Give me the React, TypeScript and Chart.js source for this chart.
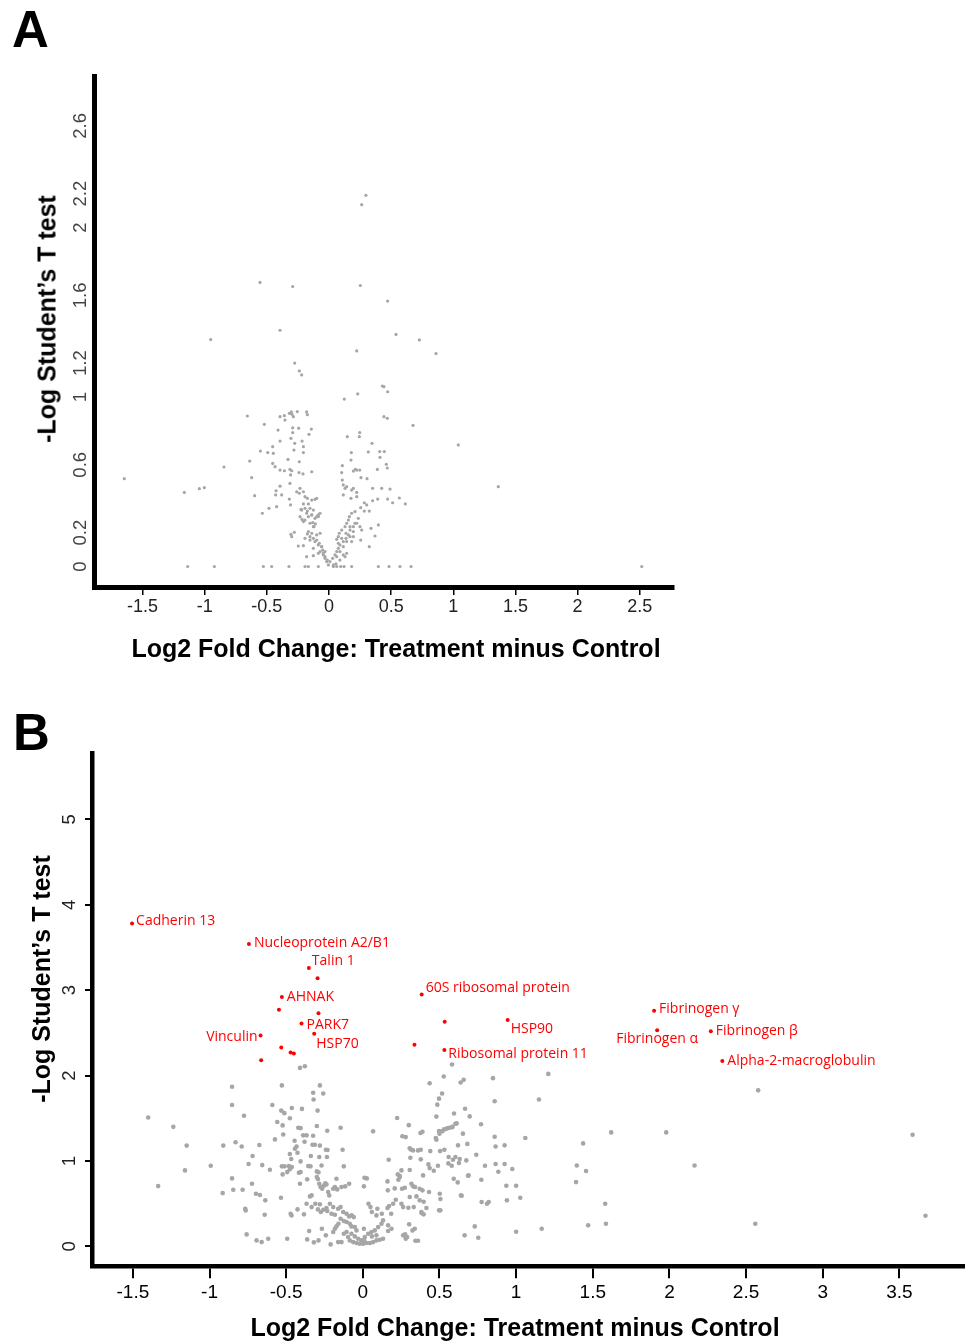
import React, { useEffect, useRef } from "react";
import { Chart, registerables } from "chart.js";

Chart.register(...registerables);

// ---------- tick values and labels ----------
const A_X_TICKS = [-1.5, -1, -0.5, 0, 0.5, 1, 1.5, 2, 2.5];
const A_X_LABELS = ["-1.5", "-1", "-0.5", "0", "0.5", "1", "1.5", "2", "2.5"];
const A_Y_TICKS = [0, 0.2, 0.6, 1, 1.2, 1.6, 2, 2.2, 2.6];
const A_Y_LABELS = ["0", "0.2", "0.6", "1", "1.2", "1.6", "2", "2.2", "2.6"];

const B_X_TICKS = [-1.5, -1, -0.5, 0, 0.5, 1, 1.5, 2, 2.5, 3, 3.5];
const B_X_LABELS = ["-1.5", "-1", "-0.5", "0", "0.5", "1", "1.5", "2", "2.5", "3", "3.5"];
const B_Y_TICKS = [0, 1, 2, 3, 4, 5];
const B_Y_LABELS = ["0", "1", "2", "3", "4", "5"];

const X_TITLE = "Log2 Fold Change: Treatment minus Control";
const Y_TITLE = "-Log Student\u2019s T test";

// ---------- panel A: all proteins (log2 FC, -log p) ----------
const PANEL_A_POINTS: [number, number][] = [
  [0.297, 2.19], [0.263, 2.135], [-0.555, 1.676], [-0.292, 1.652], [0.252, 1.658], [0.472, 1.566],
  [-0.394, 1.394], [-0.952, 1.339], [0.539, 1.369], [0.727, 1.337], [0.223, 1.272], [0.861, 1.256],
  [-0.276, 1.2], [-0.239, 1.154], [-0.22, 1.13], [1.362, 0.471], [2.516, 0],
  [0.429, 1.065], [0.442, 1.061], [0.472, 1.031], [0.123, 0.988], [0.231, 1.018],
  [-0.657, 0.888], [-0.52, 0.839], [-0.394, 0.884], [-0.359, 0.89], [-0.354, 0.864], [-0.319, 0.904],
  [-0.303, 0.912], [-0.298, 0.898], [-0.255, 0.914], [-0.18, 0.912], [-0.174, 0.896], [-0.287, 0.884],
  [0.442, 0.884], [0.469, 0.874], [0.676, 0.833],
  [-0.41, 0.805], [-0.292, 0.818], [-0.244, 0.816], [-0.142, 0.811], [-0.161, 0.78], [-0.292, 0.79],
  [-0.306, 0.756], [-0.394, 0.74], [-0.217, 0.74], [-0.276, 0.727], [-0.206, 0.707],
  [0.247, 0.79], [0.244, 0.766], [0.147, 0.766], [1.04, 0.717],
  [0.346, 0.727], [-0.453, 0.707], [-0.552, 0.681], [-0.493, 0.672], [-0.448, 0.668], [-0.282, 0.687],
  [-0.206, 0.672], [-0.638, 0.622], [-0.33, 0.632], [-0.239, 0.618],
  [0.18, 0.672], [0.177, 0.628], [0.316, 0.676], [0.408, 0.678], [0.445, 0.678], [0.41, 0.644], [0.461, 0.603],
  [-0.845, 0.587], [-1.647, 0.518], [-0.622, 0.524], [-0.453, 0.608], [-0.434, 0.589], [-0.394, 0.569],
  [-0.359, 0.565], [-0.314, 0.573], [-0.3, 0.565], [-0.309, 0.54], [-0.241, 0.554], [-0.209, 0.546], [-0.139, 0.559],
  [0.107, 0.595], [0.102, 0.554], [0.196, 0.563], [0.212, 0.573], [0.223, 0.569], [0.247, 0.569],
  [0.257, 0.524], [0.389, 0.573], [0.469, 0.581], [0.306, 0.518], [0.351, 0.461],
  [-1.164, 0.437], [-1.043, 0.459], [-1.003, 0.465], [-0.598, 0.418], [-0.536, 0.314], [-0.483, 0.343],
  [-0.421, 0.353], [-0.426, 0.447], [-0.394, 0.474], [-0.429, 0.422], [-0.381, 0.422], [-0.314, 0.49],
  [-0.319, 0.398], [-0.26, 0.441], [-0.239, 0.432], [-0.233, 0.461], [-0.206, 0.441], [-0.193, 0.412],
  [-0.174, 0.402], [-0.139, 0.392], [-0.113, 0.396], [-0.099, 0.402], [-0.309, 0.363], [-0.206, 0.369], [-0.166, 0.369],
  [0.107, 0.51], [0.115, 0.481], [0.129, 0.461], [0.142, 0.471], [0.182, 0.451], [0.196, 0.461],
  [0.223, 0.437], [0.115, 0.422], [0.177, 0.402], [0.223, 0.412], [0.424, 0.461], [0.472, 0.398],
  [0.512, 0.376], [0.566, 0.404], [0.614, 0.369], [0.491, 0.457], [0.392, 0.398], [0.351, 0.388],
  [0.284, 0.376], [0.303, 0.363], [0.284, 0.327], [0.324, 0.327], [0.255, 0.347],
  [-0.225, 0.337], [-0.193, 0.343], [-0.174, 0.327], [-0.153, 0.343], [-0.126, 0.333], [-0.233, 0.294],
  [-0.217, 0.278], [-0.193, 0.274], [-0.166, 0.294], [-0.139, 0.304], [-0.099, 0.294], [-0.131, 0.259],
  [-0.11, 0.251], [-0.121, 0.235], [-0.086, 0.304], [-0.072, 0.314],
  [-0.306, 0.19], [-0.3, 0.176], [-0.279, 0.202], [-0.247, 0.121], [-0.206, 0.123], [-0.174, 0.192],
  [-0.153, 0.176], [-0.126, 0.166], [-0.099, 0.156], [-0.078, 0.137], [-0.059, 0.117], [-0.072, 0.196],
  [-0.18, 0.058], [-0.126, 0.064], [-0.086, 0.078], [-0.046, 0.068], [-0.032, 0.048], [-0.019, 0.029],
  [-0.005, 0.009], [-0.051, 0.097], [-0.032, 0.088],
  [0.008, 0.029], [0.029, 0.048], [0.048, 0.068], [0.062, 0.088], [0.075, 0.107], [0.088, 0.127],
  [0.115, 0.147], [0.137, 0.166], [0.156, 0.186], [0.169, 0.215], [0.083, 0.196], [0.102, 0.215],
  [0.129, 0.235], [0.142, 0.255], [0.062, 0.16], [0.075, 0.176], [0.164, 0.294], [0.182, 0.314],
  [0.209, 0.324], [0.156, 0.274], [0.196, 0.235], [0.223, 0.255], [0.249, 0.235], [0.263, 0.215],
  [0.196, 0.176], [0.182, 0.147], [0.255, 0.156], [0.324, 0.117], [0.338, 0.225], [0.37, 0.18],
  [0.397, 0.245], [0.115, 0.068], [0.142, 0.078], [0.035, 0.009], [0.056, 0.015],
  [-0.22, 0.333], [-0.18, 0.314], [-0.139, 0.304], [-0.113, 0.284], [-0.086, 0.294], [-0.206, 0.265],
  [-0.153, 0.255], [-0.126, 0.235], [-0.166, 0.206], [-0.139, 0.196], [-0.099, 0.186], [-0.193, 0.166],
  [-0.153, 0.156], [-0.113, 0.147], [-0.086, 0.127], [-0.059, 0.117], [-0.126, 0.107], [-0.072, 0.088],
  [-0.046, 0.078], [-0.032, 0.058], [-0.013, 0.038],
  [0.062, 0.058], [0.088, 0.088], [0.115, 0.117], [0.142, 0.147], [0.169, 0.176], [0.196, 0.206],
  [0.075, 0.137], [0.102, 0.166], [0.137, 0.196], [0.169, 0.235], [0.209, 0.255], [0.236, 0.284],
  [0.088, 0.038], [0.129, 0.058],
  [-1.137, 0], [-0.922, 0], [-0.528, 0], [-0.461, 0], [-0.322, 0], [-0.193, 0], [-0.166, 0], [-0.086, 0],
  [0.035, 0], [0.062, 0], [0.094, 0], [0.121, 0], [0.182, 0], [0.397, 0], [0.483, 0], [0.571, 0], [0.66, 0],
];

// ---------- panel B: non-significant proteins ----------
const PANEL_B_GRAY: [number, number][] = [
  [-0.41, 2.09], [-0.378, 2.11], [0.582, 2.13],
  [-0.853, 1.87], [-0.528, 1.885], [-0.28, 1.885], [0.528, 1.99], [0.638, 1.92], [0.658, 1.95], [0.849, 1.97], [0.436, 1.91],
  [-0.324, 1.8], [-0.258, 1.79], [-0.321, 1.72], [-0.853, 1.655], [-0.59, 1.655], [-0.532, 1.59], [-0.512, 1.56],
  [-0.463, 1.62], [-0.397, 1.61], [-0.295, 1.59], [0.517, 1.79], [0.497, 1.73], [0.486, 1.66], [0.86, 1.7], [1.149, 1.72],
  [-1.4, 1.51], [-1.236, 1.4], [-0.775, 1.53], [-0.558, 1.456], [-0.476, 1.5], [-0.523, 1.417], [-0.421, 1.39],
  [-0.406, 1.385], [-0.3, 1.41], [-0.232, 1.354], [-0.145, 1.39], [0.067, 1.347], [0.224, 1.503], [0.3, 1.42],
  [0.48, 1.52], [0.595, 1.557], [0.667, 1.612], [0.697, 1.522], [0.771, 1.43], [0.53, 1.37], [0.556, 1.386],
  [0.584, 1.4], [0.604, 1.436], [0.612, 1.44], [0.497, 1.35], [1.06, 1.27], [0.86, 1.284],
  [-0.573, 1.253], [-0.519, 1.31], [-0.445, 1.237], [-0.432, 1.17], [-0.389, 1.3], [-0.367, 1.3], [-0.38, 1.226],
  [-0.324, 1.296], [-0.328, 1.19], [-0.313, 1.19], [-0.28, 1.18], [0.258, 1.29], [0.28, 1.28], [0.376, 1.327],
  [0.389, 1.343], [0.476, 1.27], [0.48, 1.25], [0.5, 1.32], [0.52, 1.35], [0.545, 1.378], [0.567, 1.39],
  [0.584, 1.397], [0.621, 1.183], [0.682, 1.2], [0.653, 1.32], [0.866, 1.17], [0.925, 1.183],
  [-1.149, 1.18], [-0.91, 1.18], [-0.83, 1.22], [-0.79, 1.17], [-0.675, 1.187], [-0.719, 1.058], [-0.476, 1.081],
  [-0.467, 1.023], [-0.443, 1.144], [-0.426, 1.097], [-0.406, 0.995], [-0.339, 1.058], [-0.284, 1.046],
  [-0.241, 1.132], [-0.23, 1.128], [-0.234, 1.046], [-0.132, 1.132], [0.306, 1.15], [0.313, 1.136],
  [0.328, 1.124], [0.36, 1.124], [0.378, 1.132], [0.31, 1.038], [0.378, 1.019], [0.44, 1.116], [0.504, 1.116],
  [0.532, 1.132], [0.56, 1.046], [0.604, 1.046], [0.632, 1.023], [0.675, 1.007], [0.74, 1.073], [0.797, 0.945],
  [0.866, 0.964], [0.925, 0.964], [0.975, 0.906],
  [-1.16, 0.89], [-0.992, 0.945], [-0.745, 0.964], [-0.656, 0.952], [-0.606, 0.898], [-0.528, 0.937],
  [-0.51, 0.937], [-0.482, 0.94], [-0.523, 0.843], [-0.493, 0.87], [-0.476, 0.902], [-0.463, 0.929],
  [-0.417, 0.863], [-0.406, 0.87], [-0.356, 0.94], [-0.341, 0.937], [-0.3, 0.878], [-0.289, 0.867],
  [-0.269, 0.948], [-0.124, 0.937], [0.169, 1.015], [0.228, 0.843], [0.241, 0.824], [0.252, 0.89],
  [0.306, 0.894], [0.393, 0.831], [0.428, 0.96], [0.436, 0.917], [0.463, 0.886], [0.49, 0.945], [0.558, 0.972],
  [0.588, 1.015], [0.58, 0.945], [0.627, 0.976], [0.69, 0.831], [0.619, 0.749], [0.884, 0.874], [0.936, 0.71], [1.0, 0.71],
  [-1.335, 0.706], [-0.853, 0.796], [-0.845, 0.664], [-0.784, 0.664], [-0.723, 0.734], [-0.697, 0.617],
  [-0.671, 0.601], [-0.636, 0.539], [-0.534, 0.57], [-0.41, 0.734], [-0.363, 0.785], [-0.3, 0.812],
  [-0.293, 0.788], [-0.284, 0.734], [-0.276, 0.695], [-0.265, 0.675], [-0.254, 0.71], [-0.245, 0.738],
  [-0.237, 0.726], [-0.226, 0.636], [-0.219, 0.597], [-0.193, 0.675], [-0.182, 0.695], [-0.172, 0.792],
  [-0.167, 0.667], [-0.139, 0.695], [-0.115, 0.703], [-0.089, 0.734], [0.011, 0.804], [0.026, 0.796],
  [0.007, 0.703], [0.161, 0.761], [0.163, 0.656], [0.208, 0.679], [0.232, 0.78], [0.241, 0.812], [0.256, 0.675],
  [0.274, 0.687], [0.317, 0.734], [0.328, 0.703], [0.341, 0.695], [0.371, 0.675], [0.389, 0.656], [0.432, 0.636],
  [0.502, 0.617], [0.506, 0.554], [0.593, 0.792], [0.64, 0.597], [0.686, 0.828], [0.773, 0.78], [0.81, 0.5],
  [0.821, 0.52], [0.775, 0.52], [1.027, 0.57], [0.94, 0.539], [1.0, 0.172],
  [-0.914, 0.624], [-0.767, 0.441], [-0.764, 0.42], [-0.64, 0.37], [-0.471, 0.382], [-0.465, 0.363],
  [-0.426, 0.433], [-0.384, 0.375], [-0.367, 0.5], [-0.345, 0.585], [-0.334, 0.597], [-0.334, 0.46],
  [-0.31, 0.5], [-0.28, 0.492], [-0.293, 0.433], [-0.274, 0.402], [-0.258, 0.429], [-0.237, 0.449],
  [-0.232, 0.414], [-0.215, 0.5], [-0.193, 0.46], [-0.204, 0.382], [-0.182, 0.37], [-0.161, 0.441],
  [-0.145, 0.46], [-0.128, 0.402], [-0.106, 0.382], [-0.089, 0.351], [-0.072, 0.363], [-0.059, 0.343],
  [-0.159, 0.265], [-0.172, 0.234], [-0.145, 0.324], [-0.124, 0.297], [-0.106, 0.285], [-0.085, 0.265],
  [-0.074, 0.234], [-0.052, 0.226], [-0.041, 0.187], [0.037, 0.5], [0.05, 0.46], [0.059, 0.402],
  [0.089, 0.363], [0.095, 0.441], [0.124, 0.382], [0.132, 0.304], [0.161, 0.449], [0.171, 0.472],
  [0.185, 0.382], [0.198, 0.5], [0.215, 0.546], [0.252, 0.5], [0.263, 0.46], [0.297, 0.453], [0.306, 0.578],
  [0.332, 0.46], [0.35, 0.585], [0.371, 0.539], [0.397, 0.523], [0.382, 0.402], [0.397, 0.375], [0.415, 0.449],
  [0.497, 0.422], [0.506, 0.422], [0.007, 0.207], [0.009, 0.07],
  [-0.758, 0.14], [-0.693, 0.07], [-0.66, 0.05], [-0.617, 0.09], [-0.493, 0.09], [-0.363, 0.082],
  [-0.35, 0.18], [-0.319, 0.047], [-0.289, 0.07], [-0.267, 0.207], [-0.241, 0.129], [-0.21, 0.023],
  [-0.161, 0.05], [-0.139, 0.05], [-0.182, 0.207], [-0.193, 0.168], [-0.124, 0.148], [-0.106, 0.168],
  [-0.096, 0.109], [-0.085, 0.07], [-0.063, 0.05], [-0.041, 0.039], [-0.02, 0.031], [0.002, 0.031],
  [0.024, 0.039], [0.046, 0.039], [0.067, 0.05], [0.089, 0.07], [0.111, 0.078], [0.132, 0.09],
  [-0.074, 0.148], [-0.052, 0.117], [-0.03, 0.09], [-0.009, 0.07], [0.013, 0.109], [0.035, 0.148],
  [0.056, 0.168], [0.078, 0.187], [0.1, 0.226], [0.122, 0.265], [0.059, 0.117], [0.089, 0.129],
  [0.165, 0.246], [0.165, 0.18], [0.187, 0.207], [0.263, 0.129], [0.276, 0.14], [0.28, 0.09], [0.289, 0.109],
  [0.324, 0.187], [0.339, 0.207], [0.302, 0.258], [0.343, 0.066], [0.36, 0.066], [0.384, 0.39],
  [0.664, 0.129], [0.73, 0.234], [0.753, 0.101], [0.645, 0.593],
  [1.21, 2.02], [1.437, 1.206], [1.396, 0.948], [1.456, 0.882], [1.391, 0.753], [1.62, 1.335],
  [1.979, 1.335], [2.164, 0.948], [1.581, 0.5], [1.586, 0.265], [1.47, 0.246], [1.167, 0.207],
  [2.56, 0.265], [2.579, 1.827], [3.586, 1.308], [3.67, 0.359],
];

// ---------- panel B: significant proteins ----------
const PANEL_B_RED: [number, number][] = [
  [-1.505, 3.78], [-0.743, 3.54], [-0.352, 3.26], [-0.295, 3.14], [-0.528, 2.92], [-0.547, 2.77],
  [-0.289, 2.73], [-0.4, 2.61], [-0.317, 2.49], [-0.667, 2.47], [-0.532, 2.33], [-0.471, 2.27],
  [-0.45, 2.26], [-0.663, 2.18], [0.384, 2.95], [0.534, 2.63], [0.337, 2.36], [0.532, 2.3],
  [0.945, 2.65], [1.9, 2.76], [1.92, 2.53], [2.27, 2.52], [2.345, 2.17],
];
const PANEL_B_RED_NAMES: string[] = [
  "Cadherin 13", "Nucleoprotein A2/B1", "Talin 1", "", "AHNAK", "",
  "", "PARK7", "HSP70", "Vinculin", "", "",
  "", "", "60S ribosomal protein", "", "", "Ribosomal protein 11",
  "HSP90", "Fibrinogen \u03b3", "Fibrinogen \u03b1", "Fibrinogen \u03b2", "Alpha-2-macroglobulin",
];

// label placement (pixel offsets from the point) – styling only
const LABEL_PLACEMENT: Record<string, { dx: number; dy: number; align: CanvasTextAlign }> = {
  "Cadherin 13": { dx: 4, dy: -3, align: "left" },
  "Nucleoprotein A2/B1": { dx: 5, dy: -1, align: "left" },
  "Talin 1": { dx: 3, dy: -7, align: "left" },
  "AHNAK": { dx: 5, dy: 0, align: "left" },
  "PARK7": { dx: 5, dy: 2, align: "left" },
  "HSP70": { dx: 2, dy: 10, align: "left" },
  "Vinculin": { dx: -3, dy: 2, align: "right" },
  "60S ribosomal protein": { dx: 4, dy: -6, align: "left" },
  "Ribosomal protein 11": { dx: 4, dy: 4, align: "left" },
  "HSP90": { dx: 3, dy: 9, align: "left" },
  "Fibrinogen \u03b3": { dx: 5, dy: -2, align: "left" },
  "Fibrinogen \u03b1": { dx: 0, dy: 9, align: "center" },
  "Fibrinogen \u03b2": { dx: 5, dy: 0, align: "left" },
  "Alpha-2-macroglobulin": { dx: 5, dy: 0, align: "left" },
};

const GRAY = "#a6a6a6";
const RED = "#ff0000";
const SANS = '"Liberation Sans", Arial, sans-serif';

const toXY = (pts: [number, number][]) => pts.map(([x, y]) => ({ x, y }));

const labelPlugin = {
  id: "proteinLabels",
  afterDatasetsDraw(chart: any) {
    const meta = chart.getDatasetMeta(1);
    if (!meta || !meta.data) return;
    const ctx = chart.ctx;
    ctx.save();
    ctx.font = '14px "Open Sans", "Liberation Sans", sans-serif';
    ctx.fillStyle = RED;
    ctx.textBaseline = "middle";
    PANEL_B_RED_NAMES.forEach((name, i) => {
      if (!name) return;
      const el = meta.data[i];
      const p = LABEL_PLACEMENT[name];
      if (!el || !p) return;
      ctx.textAlign = p.align;
      ctx.fillText(name, el.x + p.dx, el.y + p.dy);
    });
    ctx.restore();
  },
};

type AxisCfg = {
  min: number; max: number; ticks: number[]; labels: string[];
  tickLen: number; tickWidth: number; pad: number; fontSize: number; color: string; box: number;
};

function makeScales(x: AxisCfg, y: AxisCfg, borderWidth: number) {
  return {
    x: {
      type: "linear",
      position: "bottom",
      min: x.min,
      max: x.max,
      afterBuildTicks: (s: any) => { s.ticks = x.ticks.map((v) => ({ value: v })); },
      afterFit: (s: any) => { s.height = x.box; },
      grid: {
        display: true, drawOnChartArea: false, drawTicks: x.tickLen > 0,
        tickLength: x.tickLen, color: "#000", tickColor: "#000", lineWidth: x.tickWidth, tickWidth: x.tickWidth,
      },
      border: { display: true, color: "#000", width: borderWidth },
      ticks: {
        autoSkip: false, minRotation: 0, maxRotation: 0, padding: x.pad, color: x.color,
        font: { family: SANS, size: x.fontSize },
        callback: (_v: any, i: number) => x.labels[i],
      },
    },
    y: {
      type: "linear",
      position: "left",
      min: y.min,
      max: y.max,
      afterBuildTicks: (s: any) => { s.ticks = y.ticks.map((v) => ({ value: v })); },
      afterFit: (s: any) => { s.width = y.box; },
      grid: {
        display: y.tickLen > 0, drawOnChartArea: false, drawTicks: y.tickLen > 0,
        tickLength: y.tickLen, color: "#000", tickColor: "#000", lineWidth: y.tickWidth, tickWidth: y.tickWidth,
      },
      border: { display: true, color: "#000", width: borderWidth },
      ticks: {
        autoSkip: false, minRotation: 90, maxRotation: 90, crossAlign: "center", padding: y.pad, color: y.color,
        font: { family: SANS, size: y.fontSize },
        callback: (_v: any, i: number) => y.labels[i],
      },
    },
  };
}

function baseOptions(padding: any, scales: any) {
  return {
    responsive: false,
    animation: false,
    devicePixelRatio: 1,
    events: [],
    layout: { padding, autoPadding: false },
    plugins: { legend: { display: false }, tooltip: { enabled: false }, title: { display: false } },
    scales,
  };
}

const titleStyle: React.CSSProperties = {
  position: "absolute",
  fontFamily: SANS,
  fontWeight: "bold",
  fontSize: 25,
  lineHeight: "25px",
  whiteSpace: "nowrap",
  color: "#000",
};

export default function App() {
  const refA = useRef<HTMLCanvasElement>(null);
  const refB = useRef<HTMLCanvasElement>(null);

  useEffect(() => {
    const chartA = new Chart(refA.current as HTMLCanvasElement, {
      type: "scatter",
      data: {
        datasets: [
          {
            data: toXY(PANEL_A_POINTS),
            backgroundColor: GRAY,
            borderWidth: 0,
            pointRadius: 1.6,
          },
        ],
      },
      options: baseOptions(
        { left: 54, right: 291, top: 76, bottom: 45 },
        makeScales(
          { min: -1.8906, max: 2.7755, ticks: A_X_TICKS, labels: A_X_LABELS, tickLen: 8, tickWidth: 1.5, pad: 1.5, fontSize: 18, color: "#222", box: 40 },
          { min: -0.121, max: 2.894, ticks: A_Y_TICKS, labels: A_Y_LABELS, tickLen: 0, tickWidth: 0, pad: 0, fontSize: 18.5, color: "#444", box: 40 },
          5
        )
      ) as any,
    } as any);

    const chartB = new Chart(refB.current as HTMLCanvasElement, {
      type: "scatter",
      data: {
        datasets: [
          {
            data: toXY(PANEL_B_GRAY),
            backgroundColor: GRAY,
            borderWidth: 0,
            pointRadius: 2.3,
          },
          {
            data: toXY(PANEL_B_RED),
            backgroundColor: RED,
            borderWidth: 0,
            pointRadius: 2,
          },
        ],
      },
      options: baseOptions(
        { left: 52, right: 0, top: 81, bottom: 37.3 },
        makeScales(
          { min: -1.7665, max: 3.928, ticks: B_X_TICKS, labels: B_X_LABELS, tickLen: 11.6, tickWidth: 2, pad: 3, fontSize: 19, color: "#000", box: 40 },
          { min: -0.238, max: 5.778, ticks: B_Y_TICKS, labels: B_Y_LABELS, tickLen: 7, tickWidth: 2, pad: 10, fontSize: 18.5, color: "#222", box: 40 },
          4.5
        )
      ) as any,
      plugins: [labelPlugin],
    } as any);

    return () => {
      chartA.destroy();
      chartB.destroy();
    };
  }, []);

  return (
    <div style={{ position: "absolute", left: 0, top: 0, width: 965, height: 1344, background: "#fff", overflow: "hidden" }}>
      <canvas ref={refA} width={965} height={672} style={{ position: "absolute", left: 0, top: 0, display: "block" }} />
      <canvas ref={refB} width={965} height={672} style={{ position: "absolute", left: 0, top: 672, display: "block" }} />

      <div style={{ ...titleStyle, left: 12, top: 3.5, fontSize: 51, lineHeight: "51px" }}>A</div>
      <div style={{ ...titleStyle, left: 13, top: 707, fontSize: 51, lineHeight: "51px" }}>B</div>

      <div style={{ ...titleStyle, left: 396, top: 636, transform: "translateX(-50%)" }}>{X_TITLE}</div>
      <div style={{ ...titleStyle, left: 515, top: 1315, transform: "translateX(-50%)" }}>{X_TITLE}</div>

      <div style={{ ...titleStyle, left: 46.5, top: 319, transform: "translate(-50%, -50%) rotate(-90deg)" }}>{Y_TITLE}</div>
      <div style={{ ...titleStyle, left: 41, top: 979, transform: "translate(-50%, -50%) rotate(-90deg)" }}>{Y_TITLE}</div>
    </div>
  );
}
